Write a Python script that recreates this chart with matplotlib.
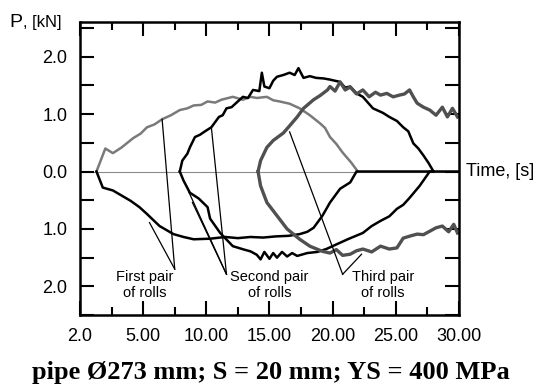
import numpy as np
import matplotlib
matplotlib.use("Agg")
import matplotlib.pyplot as plt
from matplotlib.ticker import MultipleLocator, FixedLocator, FixedFormatter, FuncFormatter

plt.rcParams['font.family'] = ['Liberation Sans', 'DejaVu Sans']

# first pair of rolls (light gray upper, black lower)
first_top_t = [1.3, 2.0, 2.6, 3.3, 4.2, 4.8, 5.3, 5.9, 6.5, 7.2, 7.9, 8.5, 9.0, 9.6, 10.1, 10.7,
               11.2, 12.1, 12.9, 13.5, 14.0, 14.8, 15.3, 15.8, 16.6, 17.4, 18.2, 19.0, 19.4,
               19.8, 20.3, 20.8, 21.5, 22.0]
first_top_v = [0.0, 0.40, 0.32, 0.42, 0.58, 0.66, 0.77, 0.82, 0.91, 0.98, 1.07, 1.10, 1.15, 1.16,
               1.22, 1.20, 1.25, 1.30, 1.25, 1.30, 1.28, 1.30, 1.24, 1.22, 1.18, 1.10, 0.98,
               0.84, 0.76, 0.60, 0.48, 0.33, 0.15, 0.0]
first_bot_t = [1.3, 1.8, 2.6, 3.3, 4.0, 4.7, 5.3, 6.3, 7.4, 8.2, 9.0, 10.3, 11.5, 12.5, 13.5,
               14.5, 15.5, 16.5, 17.4, 18.0, 18.5, 19.2, 19.8, 20.6, 21.4, 21.9, 30.0]
first_bot_v = [0.0, -0.28, -0.33, -0.42, -0.51, -0.62, -0.74, -0.95, -1.09, -1.14, -1.18, -1.17,
               -1.14, -1.16, -1.14, -1.15, -1.13, -1.12, -1.09, -1.05, -0.98, -0.77, -0.54,
               -0.30, -0.19, 0.0, 0.0]

# second pair of rolls (black)
second_top_t = [7.9, 8.1, 8.5, 8.7, 9.1, 9.5, 9.9, 10.4, 11.0, 11.3, 11.6, 12.0, 12.3, 12.9,
                13.3, 13.7, 14.2, 14.4, 14.6, 15.0, 15.3, 15.6, 16.1, 16.6, 17.0, 17.3, 17.7,
                18.2, 18.7, 19.3, 19.8, 20.6, 21.0, 21.4, 21.9, 22.4, 22.8, 23.2, 23.6, 24.0,
                24.5, 25.1, 25.6, 26.0, 26.4, 26.8, 27.2, 27.6, 28.0]
second_top_v = [0.0, 0.19, 0.31, 0.42, 0.60, 0.64, 0.70, 0.77, 0.95, 0.98, 1.10, 1.12, 1.18,
                1.30, 1.28, 1.42, 1.40, 1.72, 1.48, 1.45, 1.58, 1.65, 1.68, 1.72, 1.68, 1.80,
                1.63, 1.66, 1.63, 1.62, 1.60, 1.56, 1.46, 1.48, 1.36, 1.30, 1.20, 1.10, 1.06,
                1.02, 0.95, 0.88, 0.77, 0.70, 0.49, 0.40, 0.28, 0.15, 0.0]
second_bot_t = [7.9, 8.2, 8.7, 9.4, 10.1, 10.3, 11.1, 12.1, 13.0, 13.5, 14.0, 14.3, 14.6, 15.0,
                15.3, 15.6, 16.0, 16.4, 16.8, 17.2, 18.0, 18.8, 19.5, 20.2, 21.2, 22.4, 23.1,
                23.8, 24.5, 25.1, 25.6, 26.1, 26.9, 27.7, 28.0]
second_bot_v = [0.0, -0.16, -0.37, -0.47, -0.62, -0.82, -1.07, -1.30, -1.36, -1.39, -1.45, -1.53,
                -1.40, -1.52, -1.42, -1.50, -1.40, -1.48, -1.42, -1.47, -1.42, -1.40, -1.35,
                -1.28, -1.18, -1.07, -0.95, -0.86, -0.78, -0.65, -0.58, -0.46, -0.25, 0.0, 0.0]

# third pair of rolls (dark gray)
third_top_t = [14.1, 14.3, 14.8, 15.3, 16.1, 16.5, 17.2, 17.7, 18.5, 19.0, 19.6, 19.8, 20.2,
               20.6, 21.0, 21.4, 21.9, 22.4, 22.9, 23.4, 23.8, 24.3, 24.8, 25.3, 25.7, 26.1,
               26.4, 26.7, 27.2, 27.7, 28.2, 28.7, 29.1, 29.5, 29.9]
third_top_v = [0.0, 0.19, 0.42, 0.54, 0.67, 0.77, 0.95, 1.10, 1.25, 1.32, 1.42, 1.48, 1.40,
               1.56, 1.42, 1.47, 1.35, 1.42, 1.30, 1.38, 1.33, 1.36, 1.30, 1.33, 1.35, 1.42,
               1.30, 1.19, 1.12, 1.07, 0.98, 1.12, 0.95, 1.10, 0.95]
third_bot_t = [14.1, 14.3, 14.8, 15.6, 16.4, 17.4, 18.2, 19.2, 19.8, 20.3, 20.8, 21.4, 21.9,
               22.4, 23.1, 23.8, 24.5, 25.1, 25.6, 26.2, 26.7, 27.2, 27.7, 28.2, 28.7, 29.2,
               29.6, 29.9]
third_bot_v = [0.0, -0.25, -0.54, -0.77, -1.0, -1.18, -1.30, -1.39, -1.42, -1.36, -1.46, -1.44,
               -1.38, -1.35, -1.40, -1.30, -1.35, -1.33, -1.16, -1.12, -1.09, -1.10, -1.04,
               -0.98, -0.95, -1.05, -0.92, -1.07]

# annotation pointers: label, text position, vertex, targets
labels = ["First pair\nof rolls", "Second pair\nof rolls", "Third pair\nof rolls"]
label_pos = [(5.1, -1.98), (15.0, -1.98), (24.0, -1.98)]
vertices = [(7.5, -1.70), (11.6, -1.79), (20.8, -1.79)]
targets = [[(6.5, 0.91), (5.5, -0.89)],
           [(10.4, 0.77), (8.9, -0.54), (8.6, -0.35)],
           [(16.6, 0.69), (22.3, -1.44)]]

xticks = [0, 5, 10, 15, 20, 25, 30]
xticklabels = ["2.0", "5.00", "10.00", "15.00", "20.00", "25.00", "30.00"]

fig = plt.figure(figsize=(5.41, 3.89), dpi=100)
ax = fig.add_axes([0.148, 0.190, 0.700, 0.753])

ax.axhline(0, color='#8a8a8a', lw=0.8, zorder=1)
ax.plot(first_top_t, first_top_v, color='#7a7a7a', lw=1.8)
ax.plot(first_bot_t, first_bot_v, color='black', lw=1.8)
ax.plot(second_top_t, second_top_v, color='black', lw=1.8)
ax.plot(second_bot_t, second_bot_v, color='black', lw=1.8)
ax.plot(third_top_t, third_top_v, color='#505050', lw=2.4)
ax.plot(third_bot_t, third_bot_v, color='#505050', lw=2.4)

for lab, pos, vx, tg in zip(labels, label_pos, vertices, targets):
    for p in tg:
        ax.plot([vx[0], p[0]], [vx[1], p[1]], color='black', lw=0.9)
    ax.text(pos[0], pos[1], lab, ha='center', va='center', fontsize=10.5, linespacing=1.15)

ax.set_xlim(0, 30)
ax.set_ylim(-2.5, 2.6)
ax.xaxis.set_major_locator(FixedLocator(xticks))
ax.xaxis.set_major_formatter(FixedFormatter(xticklabels))
ax.xaxis.set_minor_locator(MultipleLocator(2.5))
ax.yaxis.set_major_locator(FixedLocator([-2, -1, 0, 1, 2]))
ax.yaxis.set_major_formatter(FuncFormatter(lambda v, p: "%.1f" % abs(v)))
ax.yaxis.set_minor_locator(MultipleLocator(0.5))

ax.tick_params(which='both', direction='in', top=True, right=True, width=1.5, labelsize=13)
ax.tick_params(axis='x', which='major', length=10, pad=9)
ax.tick_params(axis='x', which='minor', length=6)
ax.tick_params(axis='y', which='major', length=10, pad=9)
ax.tick_params(axis='y', which='minor', length=10)
for s in ax.spines.values():
    s.set_linewidth(1.8)

fig.text(0.018, 0.930, "P", fontsize=14, va='baseline')
fig.text(0.043, 0.930, ", [kN]", fontsize=12, va='baseline')
ax.text(1.02, 0.0, "Time, [s]", transform=ax.get_yaxis_transform(), fontsize=13,
        va='center', ha='left')
fig.text(0.5, 0.025, "pipe Ø273 mm; S = 20 mm; YS = 400 MPa", ha='center', va='baseline',
         fontsize=19, fontweight='bold', family=['Liberation Serif', 'DejaVu Serif'])

fig.savefig("out.png", dpi=100)
